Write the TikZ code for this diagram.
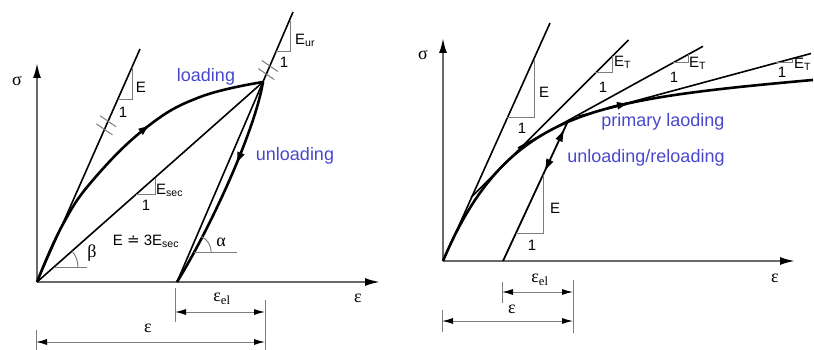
\documentclass[tikz,border=0pt]{standalone}
\usepackage{fontspec}
\setmainfont{Liberation Sans}
\newfontfamily\grkfont{Liberation Serif}
\newfontfamily\symfont{DejaVu Sans}
\usetikzlibrary{arrows.meta,decorations.markings,calc}
\definecolor{txtblue}{RGB}{72,72,205}
\definecolor{axgray}{RGB}{105,105,105}
\definecolor{thingray}{RGB}{125,125,125}
\begin{document}
\begin{tikzpicture}[x=1pt,y=-1pt,
  axisline/.style={line width=2pt, draw=axgray, -{Latex[length=15pt,width=8pt,color=black]}},
  thickcurve/.style={line width=2.6pt, draw=black},
  slopeline/.style={line width=1.6pt, draw=black},
  slopetri/.style={line width=1pt, draw=thingray},
  hashmark/.style={line width=1pt, draw=thingray},
  anglemark/.style={line width=1pt, draw=thingray},
  dimline/.style={line width=1pt, draw=thingray, {Latex[length=11pt,width=6pt,color=black]}-{Latex[length=11pt,width=6pt,color=black]}},
  dimtick/.style={line width=1pt, draw=thingray},
  lbl/.style={font=\fontsize{15}{18}\selectfont, inner sep=0pt},
  bluelbl/.style={font=\fontsize{18}{22}\selectfont, text=txtblue, inner sep=0pt},
  greek/.style={font=\fontsize{18}{21}\selectfont\grkfont, inner sep=0pt},
  arrowmark/.style={postaction={decorate}, decoration={markings, mark=at position #1 with {\arrow{Latex[length=13pt,width=8pt]}}}}
]
\useasboundingbox (0,0) rectangle (814,350);

% ================= LEFT PANEL =================
\coordinate (OL) at (37,282);
\coordinate (yL) at (37,63);
\coordinate (xL) at (380,282);
\coordinate (EtopL) at (140,49);
\coordinate (PL) at (263,82);
\coordinate (BL) at (177,282);
\coordinate (EurTop) at (293,12);

\draw[axisline] (OL) -- (yL);
\draw[axisline] (OL) -- (xL);
\node[greek] (sigL) at (17,81) {σ};
\node[greek] (epsL) at (358,298) {ε};

% E line with slope triangle and hash marks
\draw[slopeline] (OL) -- (EtopL);
\draw[slopetri] (117.5,100) -- (132,100) -- (132,67.2);
\node[lbl] (EL) at (141,87) {E};
\node[lbl] (oneEL) at (123,112) {1};
\draw[hashmark] ($(OL)!0.655!(EtopL)+(-8,-5.5)$) -- ++(16,11);
\draw[hashmark] ($(OL)!0.69!(EtopL)+(-8,-5.5)$) -- ++(16,11);

% secant
\draw[slopeline] (OL) -- (PL);
\draw[slopetri] (136.4,194) -- (155,194) -- (155,177.6);
\node[lbl, anchor=west] (EsecL) at (156,190) {E\textsubscript{sec}};
\node[lbl] (oneSec) at (146,205) {1};
\node[lbl] (relL) at (146,241) {E {\symfont ≐} 3E\textsubscript{sec}};

% E_ur line
\draw[slopeline] (BL) -- (EurTop);
\draw[slopetri] (276,52) -- (290,52) -- (290,21);
\node[lbl, anchor=west] (EurL) at (295,40) {E\textsubscript{ur}};
\node[lbl] (oneUr) at (284,62) {1};
\draw[hashmark] ($(BL)!0.77!(EurTop)+(-8,-5.5)$) -- ++(16,11);
\draw[hashmark] ($(BL)!0.80!(EurTop)+(-8,-5.5)$) -- ++(16,11);

% loading curve
\draw[thickcurve, arrowmark=0.62] plot[smooth, tension=0.7] coordinates {(37,282) (62,226) (93,180) (147,127) (200,97) (263,82)};
\node[bluelbl] (loadL) at (206,77) {loading};

% unloading curve
\draw[thickcurve, arrowmark=0.40] (PL) .. controls (255,130) and (212,225) .. (BL);
\node[bluelbl] (unloadL) at (295,156) {unloading};

% angles
\draw[anglemark] (54,267) -- (87,267);
\draw[anglemark] (78,267) arc[start angle=0, end angle=-41.5, radius=24];
\node[greek] (betaL) at (92,253) {β};
\draw[anglemark] (194.2,252) -- (237,252);
\draw[anglemark] (211.2,252) arc[start angle=0, end angle=-65, radius=17];
\node[greek] (alphaL) at (221,242) {α};

% dimensions
\coordinate (dA1) at (175,312); \coordinate (dA2) at (265,312);
\coordinate (dB1) at (36,342);  \coordinate (dB2) at (265,342);
\draw[dimtick] (175,288) -- (175,322);
\draw[dimtick] (265,300) -- (265,350);
\draw[dimtick] (36,330) -- (36,350);
\draw[dimline] (dA1) -- (dA2);
\draw[dimline] (dB1) -- (dB2);
\node[greek] (epselL) at (222,299) {ε\textsubscript{el}};
\node[greek] (epsdL) at (148,328) {ε};

% ================= RIGHT PANEL =================
\coordinate (OR) at (443,261);
\coordinate (yR) at (443,38);
\coordinate (xR) at (795,261);
\coordinate (EtopR) at (550,23);
\coordinate (BR) at (503,261);
\coordinate (KR) at (567.7,121.7);

\draw[axisline] (OR) -- (yR);
\draw[axisline] (OR) -- (xR);
\node[greek] (sigR) at (423,55) {σ};
\node[greek] (epsR) at (775,278) {ε};

% E line
\draw[slopeline] (OR) -- (EtopR);
\draw[slopetri] (507.3,118) -- (534,118) -- (534,58.6);
\node[lbl] (ER) at (544,92) {E};
\node[lbl] (oneER) at (522,128) {1};

% tangent lines
\draw[slopeline] (471,197.5) -- (628.5,40);
\draw[slopetri] (595.4,73) -- (612.4,73) -- (612.4,56);
\node[lbl, anchor=west] (ET1) at (614,62) {E\textsubscript{T}};
\node[lbl] (oneT1) at (603,87) {1};

\draw[slopeline] (518,148) -- (703,46.3);
\draw[slopetri] (672.6,63) -- (688,63) -- (688,54.5);
\node[lbl, anchor=west] (ET2) at (689,63) {E\textsubscript{T}};
\node[lbl] (oneT2) at (674,77) {1};

\draw[slopeline] (578,116.4) -- (811,53.5);
\draw[slopetri] (775.7,63) -- (792,63) -- (792,58.6);
\node[lbl, anchor=west] (ET3) at (794,64) {E\textsubscript{T}};
\node[lbl] (oneT3) at (782,72) {1};

% primary loading curve
\draw[thickcurve] plot[domain=0:370, samples=120, smooth] ({443+\x},{261-152*(1-exp(-\x/66))-0.08*\x});
\draw[thickcurve, -{Latex[length=13pt,width=8pt]}] plot[domain=165:187, samples=12, smooth] ({443+\x},{261-152*(1-exp(-\x/66))-0.08*\x});
\node[bluelbl] (primR) at (663,122) {primary laoding};

% unloading / reloading line
\draw[line width=1.8pt, draw=black, postaction={decorate}, decoration={markings,
   mark=at position 0.64 with {\arrowreversed{Latex[length=13pt,width=8pt]}},
   mark=at position 0.95 with {\arrow{Latex[length=13pt,width=8pt]}}}] (BR) -- (KR);
\draw[slopetri] (516,233) -- (543,233) -- (543,174.9);
\node[lbl] (EunR) at (555,208) {E};
\node[lbl] (oneunR) at (532,245) {1};
\node[bluelbl] (unrelR) at (646,158) {unloading/reloading};

% dimensions
\coordinate (dC1) at (502,292); \coordinate (dC2) at (573,292);
\coordinate (dD1) at (442,321); \coordinate (dD2) at (573,321);
\draw[dimtick] (502,282) -- (502,303);
\draw[dimtick] (573,280) -- (573,333);
\draw[dimtick] (442,310) -- (442,332);
\draw[dimline] (dC1) -- (dC2);
\draw[dimline] (dD1) -- (dD2);
\node[greek] (epselR) at (540,280) {ε\textsubscript{el}};
\node[greek] (epsdR) at (512,309) {ε};
\end{tikzpicture}
\end{document}
